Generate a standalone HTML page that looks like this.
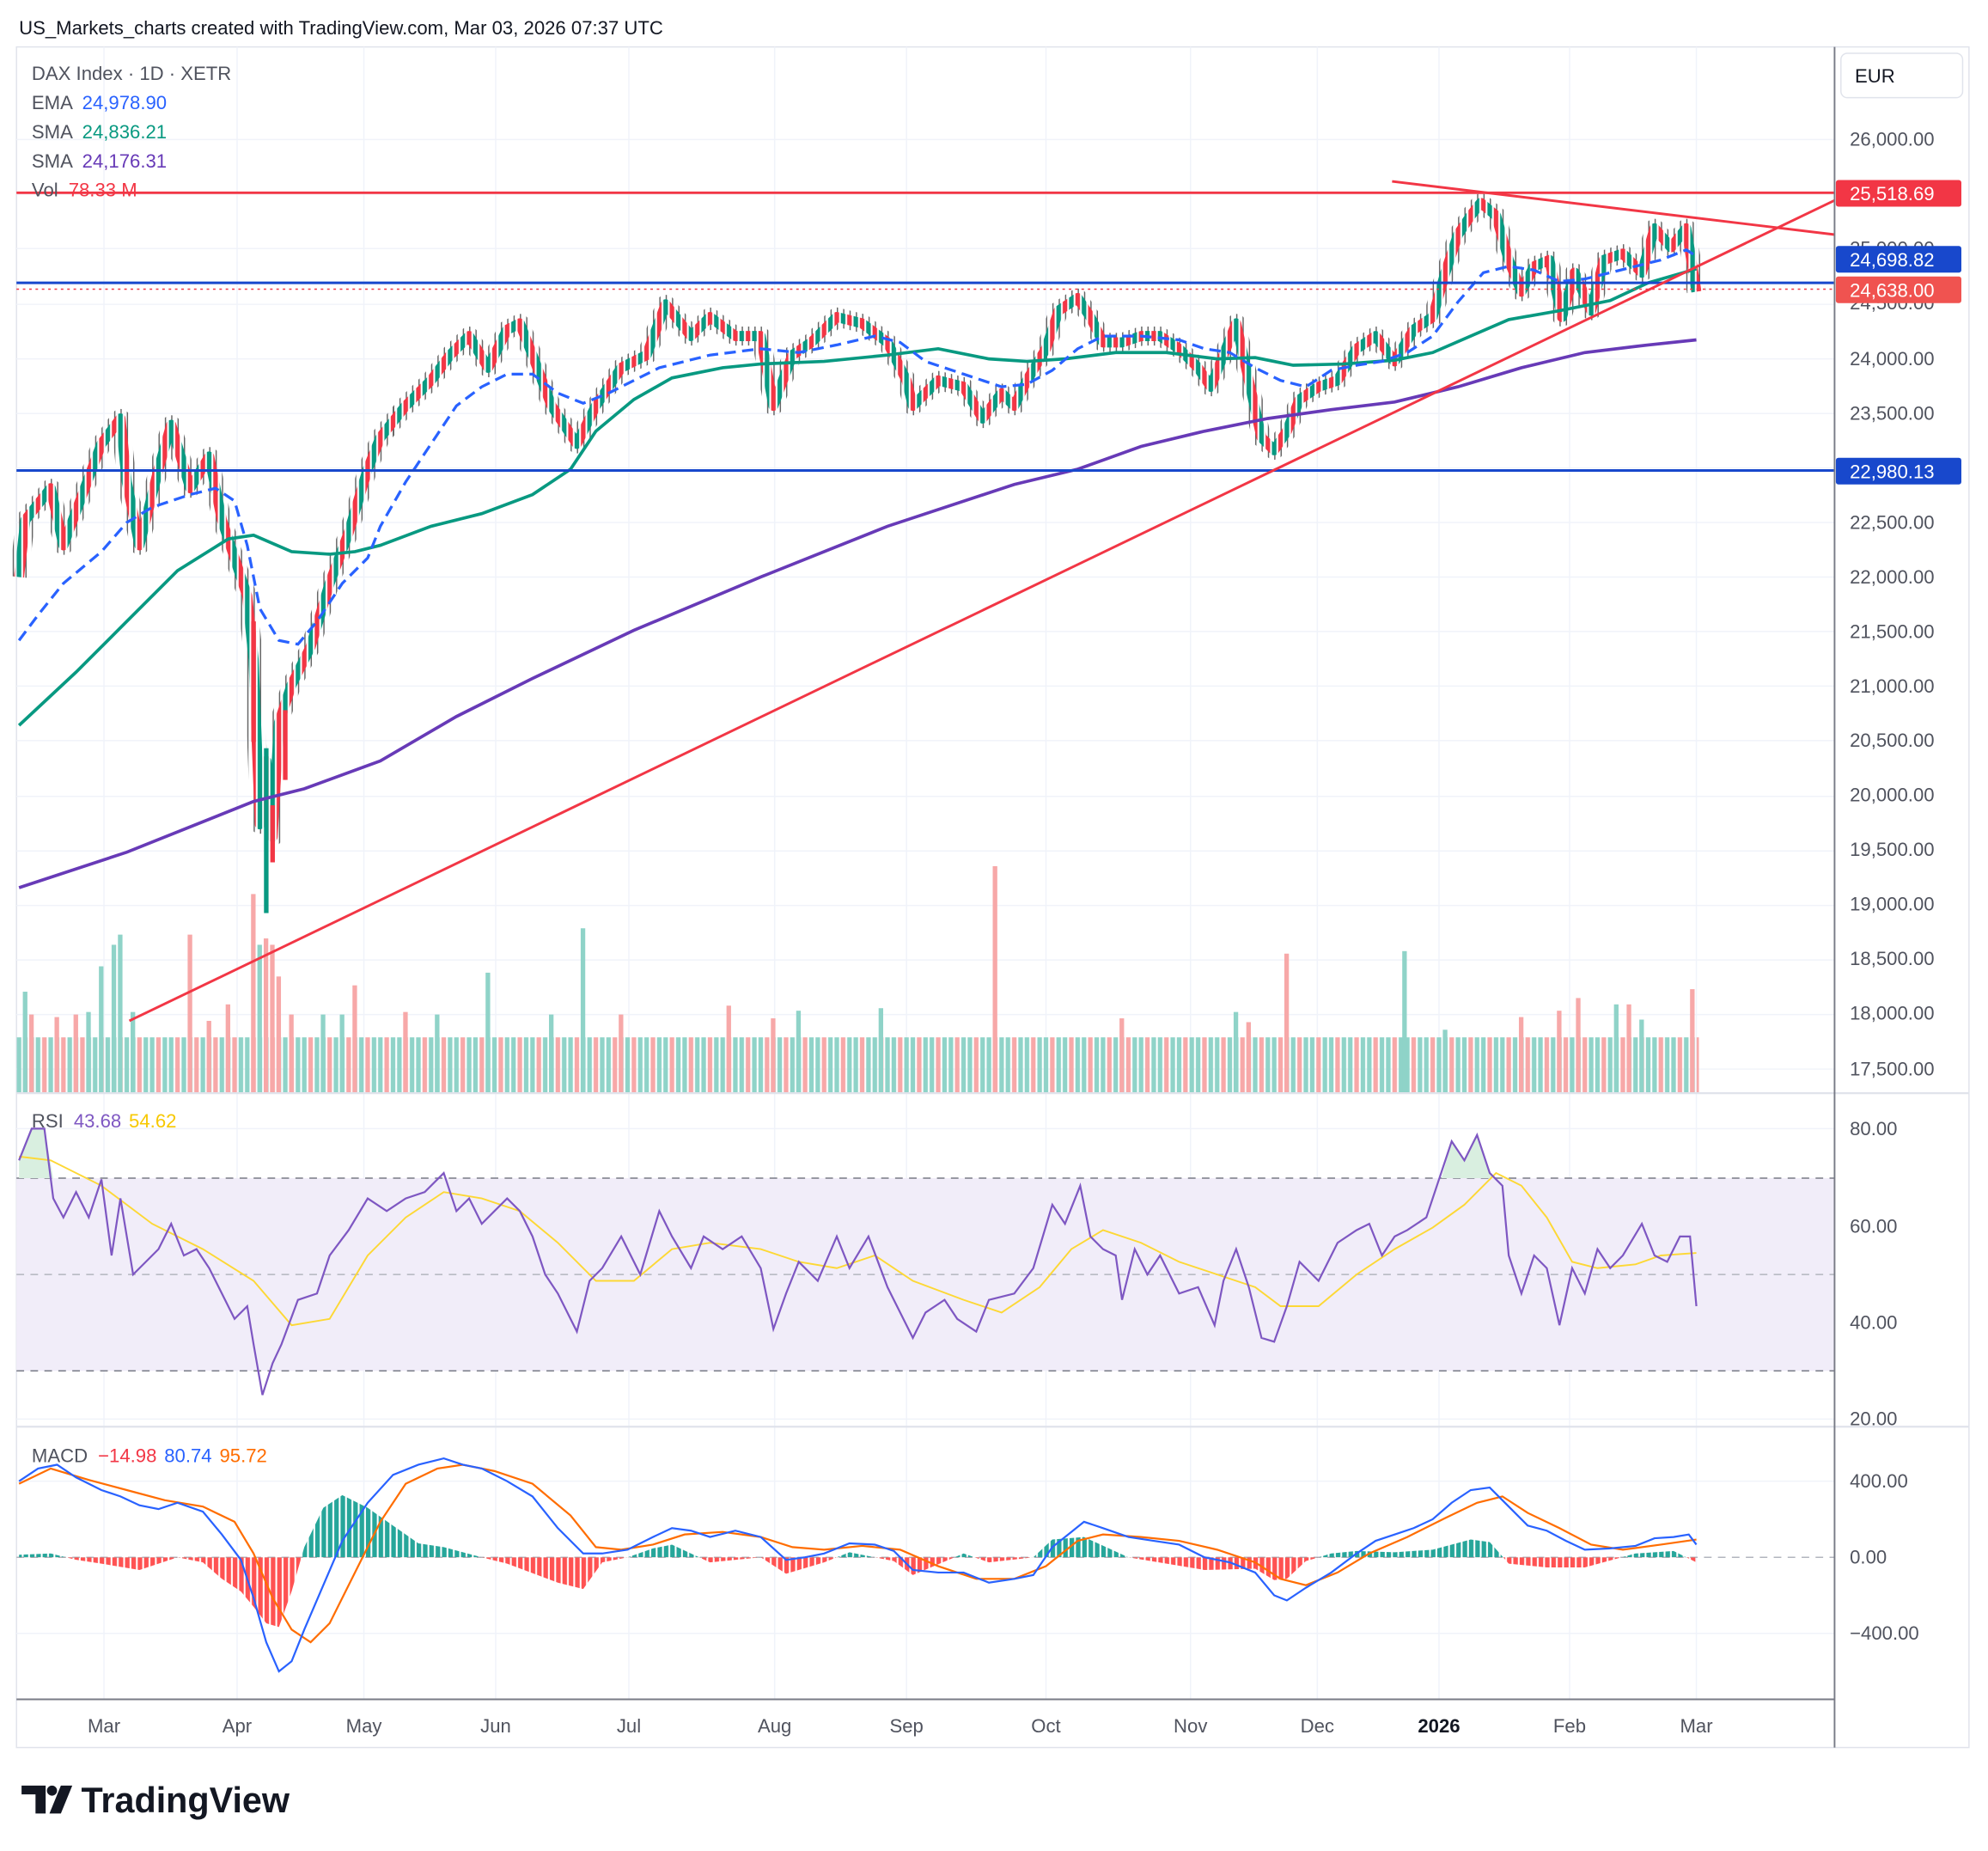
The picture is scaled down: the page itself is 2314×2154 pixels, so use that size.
<!DOCTYPE html>
<html><head><meta charset="utf-8">
<style>
html,body{margin:0;padding:0;background:#fff;}
svg{display:block;}
text{font-family:"Liberation Sans",sans-serif;}
</style></head>
<body>
<svg xmlns="http://www.w3.org/2000/svg" width="2314" height="2154" viewBox="0 0 1568 1459.6">
<defs>
<pattern id="cp" x="13" y="0" width="10" height="10" patternUnits="userSpaceOnUse"><rect x="0.2" y="0" width="3.6" height="10" fill="#089981"/><rect x="5.2" y="0" width="3.6" height="10" fill="#f23645"/></pattern>
<pattern id="wp" x="15" y="0" width="5" height="10" patternUnits="userSpaceOnUse"><rect x="0" y="0" width="1" height="10" fill="#666"/></pattern>
<pattern id="vp" x="13" y="0" width="15" height="10" patternUnits="userSpaceOnUse"><rect x="0.2" y="0" width="3.6" height="10" fill="#8fd3c8"/><rect x="5.2" y="0" width="3.6" height="10" fill="#f7a8a8"/><rect x="10.2" y="0" width="3.6" height="10" fill="#8fd3c8"/></pattern>
<pattern id="hp" x="13" y="0" width="5" height="10" patternUnits="userSpaceOnUse"><rect x="0.6" y="0" width="3.6" height="10" fill="#26a69a"/></pattern>
<pattern id="hn" x="13" y="0" width="5" height="10" patternUnits="userSpaceOnUse"><rect x="0.6" y="0" width="3.6" height="10" fill="#ff5252"/></pattern>
<clipPath id="ab"><rect x="0" y="1100" width="1447" height="128"/></clipPath>
<clipPath id="be"><rect x="0" y="1228" width="1447" height="120"/></clipPath>
</defs>
<rect x="0" y="0" width="1568" height="1460" fill="#fff"/>
<text x="15" y="27" font-size="15" fill="#131722">US_Markets_charts created with TradingView.com, Mar 03, 2026 07:37 UTC</text>
<rect x="13" y="37" width="1540" height="1341" fill="none" stroke="#e0e3eb" stroke-width="1"/>
<g stroke="#f0f3fa" stroke-width="1">
<line x1="13" y1="110" x2="1447" y2="110"/><line x1="13" y1="153" x2="1447" y2="153"/><line x1="13" y1="196" x2="1447" y2="196"/><line x1="13" y1="240" x2="1447" y2="240"/><line x1="13" y1="283" x2="1447" y2="283"/><line x1="13" y1="326" x2="1447" y2="326"/><line x1="13" y1="369" x2="1447" y2="369"/><line x1="13" y1="412" x2="1447" y2="412"/><line x1="13" y1="455" x2="1447" y2="455"/><line x1="13" y1="498" x2="1447" y2="498"/><line x1="13" y1="541" x2="1447" y2="541"/><line x1="13" y1="584" x2="1447" y2="584"/><line x1="13" y1="628" x2="1447" y2="628"/><line x1="13" y1="671" x2="1447" y2="671"/><line x1="13" y1="714" x2="1447" y2="714"/><line x1="13" y1="757" x2="1447" y2="757"/><line x1="13" y1="800" x2="1447" y2="800"/><line x1="13" y1="843" x2="1447" y2="843"/>
<line x1="13" y1="890" x2="1447" y2="890"/><line x1="13" y1="967" x2="1447" y2="967"/><line x1="13" y1="1043" x2="1447" y2="1043"/><line x1="13" y1="1119" x2="1447" y2="1119"/><line x1="13" y1="1168" x2="1447" y2="1168"/><line x1="13" y1="1288" x2="1447" y2="1288"/>
<line x1="82" y1="37" x2="82" y2="1340"/><line x1="187" y1="37" x2="187" y2="1340"/><line x1="287" y1="37" x2="287" y2="1340"/><line x1="391" y1="37" x2="391" y2="1340"/><line x1="496" y1="37" x2="496" y2="1340"/><line x1="611" y1="37" x2="611" y2="1340"/><line x1="715" y1="37" x2="715" y2="1340"/><line x1="825" y1="37" x2="825" y2="1340"/><line x1="939" y1="37" x2="939" y2="1340"/><line x1="1039" y1="37" x2="1039" y2="1340"/><line x1="1135" y1="37" x2="1135" y2="1340"/><line x1="1238" y1="37" x2="1238" y2="1340"/><line x1="1338" y1="37" x2="1338" y2="1340"/>
</g>
<rect x="13" y="929" width="1434" height="152" fill="#f1edf9"/>

<!-- volume -->
<rect x="13" y="818" width="1327" height="44" fill="url(#vp)"/>
<g fill="#f7a8a8">
<rect x="148" y="737" width="3.6" height="125"/><rect x="198" y="705" width="3.6" height="157"/><rect x="208" y="740" width="3.6" height="122"/><rect x="213" y="745" width="3.6" height="117"/><rect x="218" y="770" width="3.6" height="92"/><rect x="783" y="683" width="3.6" height="179"/><rect x="1013" y="752" width="3.6" height="110"/><rect x="1333" y="780" width="3.6" height="82"/><rect x="1243" y="787" width="3.6" height="75"/><rect x="573" y="793" width="3.6" height="69"/><rect x="278" y="777" width="3.6" height="85"/>
<rect x="23" y="800" width="3.6" height="62"/><rect x="43" y="802" width="3.6" height="60"/><rect x="58" y="800" width="3.6" height="62"/><rect x="163" y="805" width="3.6" height="57"/><rect x="178" y="792" width="3.6" height="70"/><rect x="228" y="800" width="3.6" height="62"/><rect x="318" y="798" width="3.6" height="64"/><rect x="488" y="800" width="3.6" height="62"/><rect x="608" y="803" width="3.6" height="59"/><rect x="883" y="803" width="3.6" height="59"/><rect x="983" y="806" width="3.6" height="56"/><rect x="1198" y="802" width="3.6" height="60"/><rect x="1228" y="797" width="3.6" height="65"/><rect x="1283" y="792" width="3.6" height="70"/>
</g>
<g fill="#8fd3c8">
<rect x="93" y="737" width="3.6" height="125"/><rect x="88" y="745" width="3.6" height="117"/><rect x="78" y="762" width="3.6" height="100"/><rect x="203" y="745" width="3.6" height="117"/><rect x="458" y="732" width="3.6" height="130"/><rect x="1106" y="750" width="3.6" height="112"/><rect x="383" y="767" width="3.6" height="95"/><rect x="693" y="795" width="3.6" height="67"/><rect x="628" y="797" width="3.6" height="65"/><rect x="1273" y="792" width="3.6" height="70"/>
<rect x="18" y="782" width="3.6" height="80"/><rect x="68" y="798" width="3.6" height="64"/><rect x="103" y="798" width="3.6" height="64"/><rect x="253" y="800" width="3.6" height="62"/><rect x="268" y="800" width="3.6" height="62"/><rect x="343" y="800" width="3.6" height="62"/><rect x="433" y="800" width="3.6" height="62"/><rect x="973" y="798" width="3.6" height="64"/><rect x="1293" y="804" width="3.6" height="58"/><rect x="1138" y="812" width="3.6" height="50"/>
</g>

<!-- candles -->
<polyline fill="none" stroke="url(#wp)" stroke-width="15" stroke-linejoin="round" points="15,455 20,410 40,385 50,430 80,350 95,330 100,380 110,430 125,370 135,335 150,385 165,360 175,410 185,440 195,470 200,520 205,650 210,600 215,660 220,570 230,540 245,510 260,460 275,420 290,370 300,345 320,320 340,300 355,280 370,265 385,290 400,260 410,255 420,280 435,320 455,350 470,320 490,290 510,280 525,240 545,265 560,250 580,265 600,265 610,320 625,280 640,270 660,250 680,255 700,270 715,300 720,320 740,300 760,305 775,330 790,310 800,320 810,300 825,275 835,245 850,235 860,250 870,270 885,270 900,265 915,265 930,275 945,290 955,305 965,280 975,255 985,300 995,345 1005,355 1015,340 1025,315 1040,305 1055,300 1070,275 1085,265 1100,285 1115,260 1130,250 1140,215 1150,185 1160,170 1168,160 1180,170 1190,205 1200,230 1210,210 1222,205 1232,250 1242,215 1255,245 1265,205 1280,200 1295,215 1305,180 1318,195 1330,180 1338,230"/>
<polyline fill="none" stroke="url(#cp)" stroke-width="8" stroke-linejoin="round" points="15,455 20,410 40,385 50,430 80,350 95,330 100,380 110,430 125,370 135,335 150,385 165,360 175,410 185,440 195,470 200,520 205,650 210,600 215,660 220,570 230,540 245,510 260,460 275,420 290,370 300,345 320,320 340,300 355,280 370,265 385,290 400,260 410,255 420,280 435,320 455,350 470,320 490,290 510,280 525,240 545,265 560,250 580,265 600,265 610,320 625,280 640,270 660,250 680,255 700,270 715,300 720,320 740,300 760,305 775,330 790,310 800,320 810,300 825,275 835,245 850,235 860,250 870,270 885,270 900,265 915,265 930,275 945,290 955,305 965,280 975,255 985,300 995,345 1005,355 1015,340 1025,315 1040,305 1055,300 1070,275 1085,265 1100,285 1115,260 1130,250 1140,215 1150,185 1160,170 1168,160 1180,170 1190,205 1200,230 1210,210 1222,205 1232,250 1242,215 1255,245 1265,205 1280,200 1295,215 1305,180 1318,195 1330,180 1338,230"/>
<rect x="198.2" y="490" width="3.6" height="95" fill="#f23645"/><rect x="208.2" y="590" width="3.6" height="130" fill="#089981"/><rect x="213.2" y="635" width="3.6" height="45" fill="#f23645"/><rect x="223.2" y="560" width="3.6" height="55" fill="#f23645"/>

<polyline fill="none" stroke="#673ab7" stroke-width="2.5" points="15,700 100,672 200,632 240,622 300,600 360,565 420,535 500,497 600,455 700,415 800,382 850,370 900,352 950,340 1000,330 1050,323 1100,317 1150,305 1200,290 1250,278 1300,272 1338,268"/>
<polyline fill="none" stroke="#089981" stroke-width="2.5" points="15,572 60,530 100,490 140,450 180,425 200,422 230,435 260,437 280,435 300,430 340,415 380,405 420,390 450,370 470,340 500,315 530,298 570,290 600,287 650,285 700,280 740,275 780,283 810,285 840,283 880,278 920,278 960,283 990,282 1020,288 1060,287 1100,284 1130,278 1160,265 1190,252 1230,245 1270,237 1300,223 1338,212"/>
<polyline fill="none" stroke="#2962ff" stroke-width="2.2" stroke-dasharray="9 5" points="15,505 30,485 50,460 80,435 100,412 120,400 150,390 170,385 185,395 195,430 205,480 220,505 235,508 250,490 270,460 290,440 300,415 320,380 340,350 360,320 380,305 400,295 420,295 440,310 460,318 480,310 500,300 520,290 540,285 560,280 600,275 630,278 660,272 690,265 710,270 730,285 760,295 790,305 810,303 830,292 850,275 870,265 900,265 930,268 950,275 970,278 990,290 1010,300 1030,305 1050,292 1070,288 1090,285 1110,278 1130,265 1150,238 1170,215 1190,210 1210,213 1230,222 1250,220 1270,215 1290,210 1310,205 1330,197 1338,202"/>

<line x1="13" y1="152" x2="1447" y2="152" stroke="#f23645" stroke-width="2"/>
<line x1="13" y1="223" x2="1447" y2="223" stroke="#1848cc" stroke-width="2"/>
<line x1="13" y1="371" x2="1447" y2="371" stroke="#1848cc" stroke-width="2"/>
<line x1="13" y1="228" x2="1447" y2="228" stroke="#f23645" stroke-width="1" stroke-dasharray="2 3"/>
<line x1="102" y1="805" x2="1447" y2="158" stroke="#f23645" stroke-width="2"/>
<line x1="1098" y1="143" x2="1447" y2="185" stroke="#f23645" stroke-width="2"/>

<line x1="13" y1="929" x2="1447" y2="929" stroke="#787b86" stroke-dasharray="6 5"/>
<line x1="13" y1="1081" x2="1447" y2="1081" stroke="#787b86" stroke-dasharray="6 5"/>
<line x1="13" y1="1005" x2="1447" y2="1005" stroke="#b2b5be" stroke-dasharray="6 5"/>
<polygon points="15,929 15,915 25,890 35,890 42,929" fill="#d9efe0"/>
<polygon points="1137,929 1145,900 1155,915 1165,895 1175,925 1177,929" fill="#d9efe0"/>
<polyline fill="none" stroke="#fdd835" stroke-width="1.3" points="15,912 40,915 80,935 120,965 160,985 200,1010 230,1045 260,1040 290,990 320,960 350,940 380,945 410,955 440,980 470,1010 500,1010 530,985 560,980 600,985 630,995 660,1000 690,990 720,1010 760,1025 790,1035 820,1015 845,985 870,970 900,980 930,995 960,1005 990,1015 1010,1030 1040,1030 1070,1005 1100,985 1130,968 1155,950 1180,925 1200,935 1220,960 1240,995 1260,1000 1290,997 1310,990 1338,988"/>
<polyline fill="none" stroke="#7e57c2" stroke-width="1.5" points="15,915 25,890 35,890 42,945 50,960 60,940 70,960 80,930 88,990 95,945 105,1005 115,995 125,985 135,965 145,990 155,985 165,1000 175,1020 185,1040 195,1030 200,1060 207,1100 215,1075 222,1060 235,1025 250,1020 260,990 275,970 290,945 305,955 320,945 335,940 350,925 360,955 370,945 380,965 390,955 400,945 410,955 420,975 430,1005 440,1020 455,1050 465,1010 475,1000 490,975 505,1005 520,955 530,975 545,1000 555,975 570,985 585,975 600,1000 610,1048 620,1020 630,995 645,1010 660,975 670,1000 685,975 700,1015 720,1055 730,1035 745,1025 755,1040 770,1050 780,1025 800,1020 815,1000 830,950 840,965 852,935 860,975 870,985 880,990 885,1025 895,985 905,1005 915,990 930,1020 945,1015 958,1045 965,1010 975,985 985,1015 995,1055 1005,1058 1015,1030 1025,995 1040,1010 1055,980 1070,970 1080,965 1090,990 1100,975 1110,970 1125,960 1135,930 1145,900 1155,915 1165,895 1175,925 1185,935 1190,990 1200,1020 1210,990 1220,1000 1230,1045 1240,1000 1250,1020 1260,985 1270,1000 1280,990 1295,965 1305,990 1315,995 1325,975 1333,975 1338,1030"/>

<line x1="13" y1="1228" x2="1447" y2="1228" stroke="#b2b5be" stroke-dasharray="6 5"/>
<g clip-path="url(#ab)"><polygon fill="url(#hp)" points="15,1228 15,1226 40,1225 60,1230 80,1233 110,1238 140,1228 160,1232 175,1245 190,1255 200,1267 210,1280 220,1283 230,1255 240,1220 255,1189 270,1179 290,1189 310,1203 330,1217 350,1220 380,1228 400,1233 440,1248 460,1253 475,1232 495,1228 515,1221 530,1218 560,1232 600,1228 620,1241 650,1232 670,1224 705,1231 720,1242 760,1225 780,1232 815,1228 830,1214 855,1212 890,1228 950,1238 990,1237 1005,1246 1015,1245 1030,1231 1050,1225 1070,1223 1100,1224 1130,1222 1160,1214 1175,1216 1190,1233 1220,1236 1250,1236 1290,1225 1320,1223 1338,1232 1338,1228"/></g>
<g clip-path="url(#be)"><polygon fill="url(#hn)" points="15,1228 15,1226 40,1225 60,1230 80,1233 110,1238 140,1228 160,1232 175,1245 190,1255 200,1267 210,1280 220,1283 230,1255 240,1220 255,1189 270,1179 290,1189 310,1203 330,1217 350,1220 380,1228 400,1233 440,1248 460,1253 475,1232 495,1228 515,1221 530,1218 560,1232 600,1228 620,1241 650,1232 670,1224 705,1231 720,1242 760,1225 780,1232 815,1228 830,1214 855,1212 890,1228 950,1238 990,1237 1005,1246 1015,1245 1030,1231 1050,1225 1070,1223 1100,1224 1130,1222 1160,1214 1175,1216 1190,1233 1220,1236 1250,1236 1290,1225 1320,1223 1338,1232 1338,1228"/></g>
<polyline fill="none" stroke="#ff6d00" stroke-width="1.5" points="15,1170 40,1158 70,1167 100,1175 130,1183 160,1188 185,1200 200,1225 215,1260 230,1285 245,1295 260,1280 280,1240 300,1200 320,1170 345,1158 365,1155 390,1160 420,1170 450,1195 470,1220 490,1222 515,1218 540,1210 570,1208 600,1212 625,1220 650,1222 680,1219 710,1222 740,1235 770,1245 800,1245 825,1235 850,1215 870,1210 900,1212 930,1215 960,1222 990,1232 1010,1245 1030,1250 1055,1240 1080,1225 1110,1212 1140,1197 1165,1185 1185,1180 1205,1193 1230,1205 1255,1218 1280,1222 1310,1218 1338,1214"/>
<polyline fill="none" stroke="#2962ff" stroke-width="1.5" points="15,1168 30,1158 45,1155 60,1165 80,1175 95,1180 110,1187 125,1190 140,1185 160,1192 175,1210 190,1230 200,1260 210,1295 220,1318 230,1310 240,1285 255,1250 270,1215 290,1185 310,1163 330,1155 350,1150 365,1155 380,1158 400,1168 420,1180 440,1205 460,1225 475,1225 495,1222 515,1212 530,1205 545,1207 560,1212 580,1207 600,1212 620,1230 635,1228 650,1225 670,1217 690,1218 705,1223 720,1238 740,1240 760,1240 780,1248 800,1245 815,1242 830,1220 845,1208 855,1200 870,1205 890,1212 910,1215 930,1218 950,1228 970,1232 990,1240 1005,1258 1015,1262 1030,1252 1050,1240 1070,1225 1085,1215 1100,1210 1115,1205 1130,1198 1145,1185 1160,1175 1175,1173 1190,1188 1205,1203 1220,1207 1235,1215 1250,1222 1270,1221 1290,1219 1305,1213 1320,1212 1332,1210 1338,1218"/>

<line x1="13" y1="862" x2="1553" y2="862" stroke="#e0e3eb" stroke-width="1.5"/>
<line x1="13" y1="1125" x2="1553" y2="1125" stroke="#e0e3eb" stroke-width="1.5"/>
<line x1="13" y1="1340" x2="1447" y2="1340" stroke="#787b86" stroke-width="1.3"/>
<line x1="1447" y1="37" x2="1447" y2="1378" stroke="#787b86" stroke-width="1.3"/>
<g font-size="15" fill="#50535e">
<text x="1459" y="115">26,000.00</text>
<text x="1459" y="201">25,000.00</text>
<text x="1459" y="244">24,500.00</text>
<text x="1459" y="288">24,000.00</text>
<text x="1459" y="331">23,500.00</text>
<text x="1459" y="417">22,500.00</text>
<text x="1459" y="460">22,000.00</text>
<text x="1459" y="503">21,500.00</text>
<text x="1459" y="546">21,000.00</text>
<text x="1459" y="589">20,500.00</text>
<text x="1459" y="632">20,000.00</text>
<text x="1459" y="675">19,500.00</text>
<text x="1459" y="718">19,000.00</text>
<text x="1459" y="761">18,500.00</text>
<text x="1459" y="804">18,000.00</text>
<text x="1459" y="848">17,500.00</text>
<text x="1459" y="895">80.00</text>
<text x="1459" y="972">60.00</text>
<text x="1459" y="1048">40.00</text>
<text x="1459" y="1124">20.00</text>
<text x="1459" y="1173">400.00</text>
<text x="1459" y="1233">0.00</text>
<text x="1459" y="1293">−400.00</text>
</g>
<rect x="1452" y="42" width="96" height="35" rx="5" fill="#fff" stroke="#e0e3eb"/>
<text x="1463" y="65" font-size="15" fill="#131722">EUR</text>
<g font-size="15" fill="#fff">
<rect x="1448" y="142" width="99" height="21" rx="2" fill="#f23645"/><text x="1459" y="158">25,518.69</text>
<rect x="1448" y="194" width="99" height="21" rx="2" fill="#1848cc"/><text x="1459" y="210">24,698.82</text>
<rect x="1448" y="218" width="99" height="21" rx="2" fill="#f05350"/><text x="1459" y="234">24,638.00</text>
<rect x="1448" y="361" width="99" height="21" rx="2" fill="#1848cc"/><text x="1459" y="377">22,980.13</text>
</g>
<g font-size="15">
<text x="25" y="63" fill="#50535e">DAX Index · 1D · XETR</text>
<text x="25" y="86" fill="#50535e">EMA <tspan fill="#2962ff" dx="4">24,978.90</tspan></text>
<text x="25" y="109" fill="#50535e">SMA <tspan fill="#089981" dx="4">24,836.21</tspan></text>
<text x="25" y="132" fill="#50535e">SMA <tspan fill="#673ab7" dx="4">24,176.31</tspan></text>
<text x="25" y="155" fill="#50535e">Vol <tspan fill="#f23645" dx="4">78.33 M</tspan></text>
<text x="25" y="889" fill="#50535e">RSI <tspan fill="#7e57c2" dx="4">43.68</tspan><tspan fill="#f7c800" dx="6">54.62</tspan></text>
<text x="25" y="1153" fill="#50535e">MACD <tspan fill="#f23645" dx="4">−14.98</tspan><tspan fill="#2962ff" dx="6">80.74</tspan><tspan fill="#ff6d00" dx="6">95.72</tspan></text>
</g>
<g font-size="15" fill="#50535e" text-anchor="middle">
<text x="82" y="1366">Mar</text><text x="187" y="1366">Apr</text><text x="287" y="1366">May</text>
<text x="391" y="1366">Jun</text><text x="496" y="1366">Jul</text><text x="611" y="1366">Aug</text>
<text x="715" y="1366">Sep</text><text x="825" y="1366">Oct</text><text x="939" y="1366">Nov</text>
<text x="1039" y="1366">Dec</text><text x="1135" y="1366" font-weight="bold" fill="#131722">2026</text>
<text x="1238" y="1366">Feb</text><text x="1338" y="1366">Mar</text>
</g>
<g fill="#131722">
<path d="M17 1408 H36 V1430 H28 V1415 H17 Z"/>
<circle cx="41" cy="1412" r="4"/>
<path d="M48 1408 H57 L48 1430 H39 Z"/>
<text x="64" y="1429" font-size="28" font-weight="bold">TradingView</text>
</g>
</svg>
</body></html>
